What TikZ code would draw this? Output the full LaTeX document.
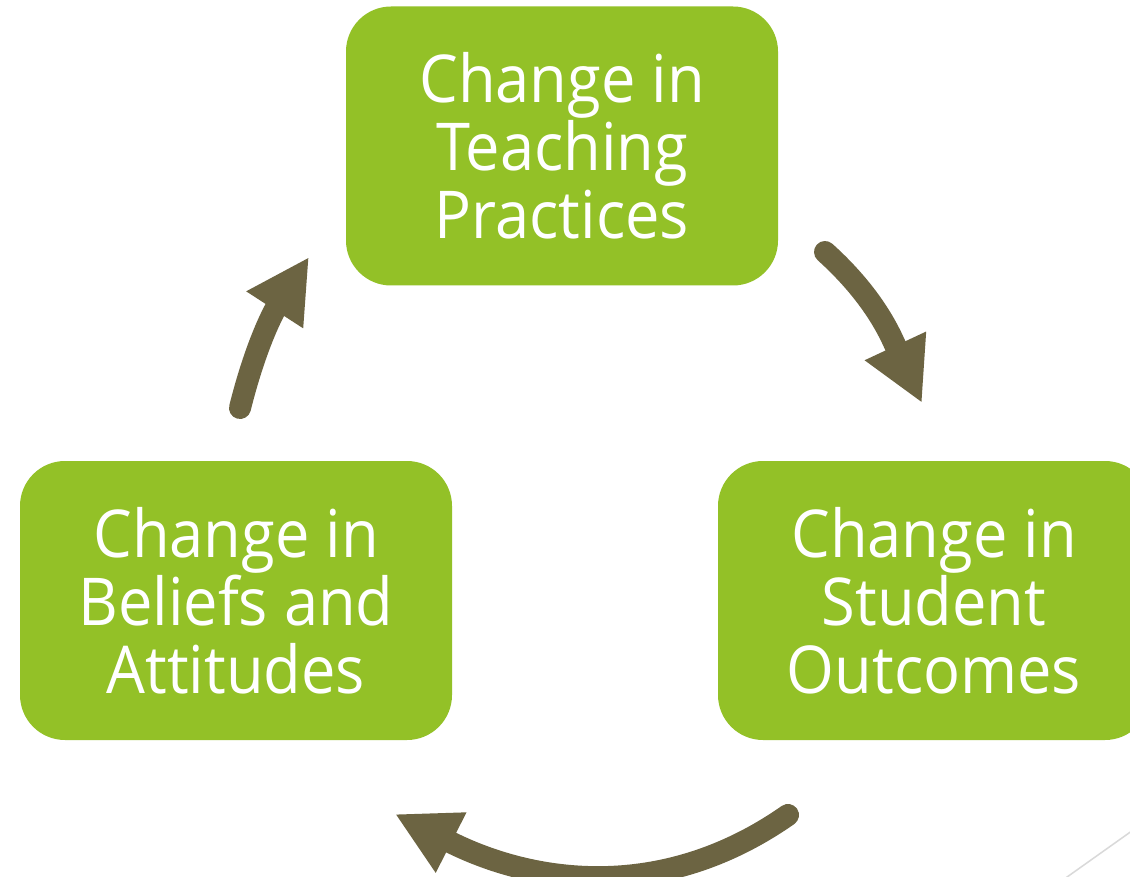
\documentclass[tikz,border=0pt]{standalone}
\usepackage{fontspec}
\setmainfont{Open Sans}[FakeStretch=0.93]
\usetikzlibrary{arrows.meta}
\definecolor{boxgreen}{RGB}{147,193,39}
\definecolor{arrowolive}{RGB}{108,100,66}
\definecolor{slideline}{RGB}{217,217,217}

\begin{document}
\begin{tikzpicture}[x=1pt,y=1pt,
  cyclebox/.style={rectangle, rounded corners=45pt, fill=boxgreen, text=white,
    minimum width=432pt, minimum height=279pt, inner sep=0pt, align=center,
    font=\fontsize{66}{68}\selectfont},
  cyclearrow/.style={draw=arrowolive, line width=22pt, line cap=round,
    -{Triangle[length=63pt,width=63pt]}}]
% page
\fill[white] (0,0) rectangle (1130,-877);
\clip (0,0) rectangle (1130,-877);

% the three stages of the cycle
\node[cyclebox] (teach)   at (562,-146)   {Change in\\Teaching\\Practices};
\node[cyclebox] (belief)  at (236,-600.5) {Change in\\Beliefs and\\Attitudes};
\node[cyclebox] (student) at (934,-600.5) {Change in\\Student\\Outcomes};

% arrow ends
\coordinate (ts) at (825,-252);
\coordinate (te) at (922,-403);
\coordinate (ss) at (788,-815);
\coordinate (se) at (395,-814);
\coordinate (bs) at (240,-408);
\coordinate (be) at (309,-257);

% curved arrows running clockwise
\draw[cyclearrow] (ts) to[out=-42,in=115] (te);
\draw[cyclearrow] (ss) to[out=-145,in=-27] (se);
\draw[cyclearrow] (bs) to[out=76,in=-123] (be);

% thin slide line in the corner
\draw[slideline, line width=1.5pt] (1060,-882) -- (1136,-828);
\end{tikzpicture}
\end{document}
